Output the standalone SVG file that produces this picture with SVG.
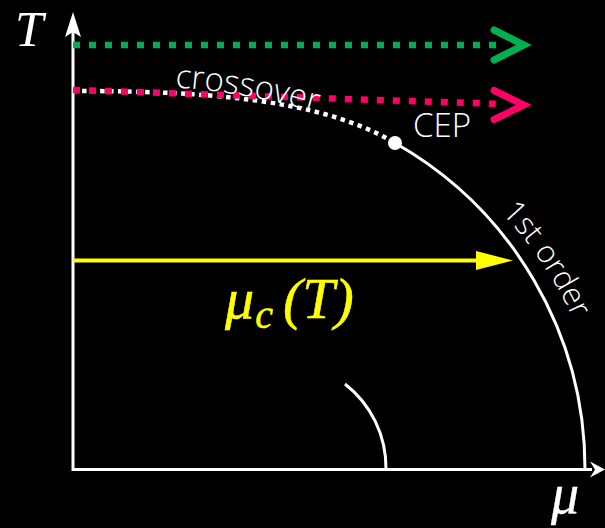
<svg xmlns="http://www.w3.org/2000/svg" width="605" height="528" viewBox="0 0 605 528">
<style>
.ax{stroke:#fff;stroke-width:3;fill:none}
.curve{stroke:#fff;stroke-width:3;fill:none}
.lbl{font-family:"Open Sans","DejaVu Sans",sans-serif;font-weight:300;fill:#fff}
.math{font-family:"Liberation Serif","DejaVu Serif",serif;font-style:italic}
.chev{fill:none;stroke-width:7;stroke-linecap:round;stroke-linejoin:miter}
</style>
<defs>
<path id="p-cross" d="M175,87.5 Q252,92 335,118"/>
<path id="p-first" d="M501.3,212.7 A388 388 0 0 1 595,380"/>
</defs>
<rect width="605" height="528" fill="#000"/>
<g id="axes">
<path class="ax" d="M73,30 V469.5 H592"/>
<polygon fill="#fff" points="73,12 81,37 73,32 65,37"/>
<polygon fill="#fff" points="605,469.5 590,461.5 595,469.5 590,477.5"/>
<text class="math" x="15" y="46" font-size="51" fill="#fff">T</text>
<text class="math" x="551" y="513" font-size="56" fill="#fff" stroke="#fff" stroke-width="0.3">μ</text>
</g>
<g id="connectors">
<line x1="73" y1="45" x2="500" y2="45" stroke="#00b050" stroke-width="6.5" stroke-dasharray="7 9"/>
<polyline class="chev" stroke="#00b050" points="494,30 524,45 494,60"/>
<path d="M73,91 C200,91 320,98 395,143" fill="none" stroke="#fff" stroke-width="4.5" stroke-dasharray="4.5 4.5"/>
<line x1="73" y1="90" x2="500" y2="104" stroke="#ff0066" stroke-width="6.5" stroke-dasharray="7 9"/>
<polyline class="chev" stroke="#ff0066" points="494,90.5 524,105 494,119.5"/>
<path class="curve" d="M395,143 A375 375 0 0 1 585,469.5"/>
<path class="curve" d="M345,384 A106.5 106.5 0 0 1 386,469.5"/>
<line x1="73" y1="260.5" x2="480" y2="260.5" stroke="#ffff00" stroke-width="4"/>
<polygon fill="#ffff00" points="476,251 513,260.5 476,270"/>
</g>
<g id="cep">
<circle cx="395" cy="143" r="7" fill="#fff"/>
<text class="lbl" x="413" y="137" font-size="33">CEP</text>
</g>
<g id="crossover">
<text class="lbl" font-size="33"><textPath href="#p-cross">crossover</textPath></text>
</g>
<g id="first-order">
<text class="lbl" font-size="31"><textPath href="#p-first">1st order</textPath></text>
</g>
<g id="muc">
<text class="math" fill="#ffff00" stroke="#ffff00" stroke-width="0.5" font-size="58" x="225" y="318">μ<tspan font-size="40" dy="10" dx="1">c</tspan><tspan dy="-10" dx="10">(T)</tspan></text>
</g>
</svg>
